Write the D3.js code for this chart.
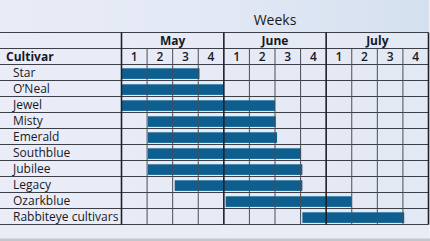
<!DOCTYPE html>
<html>
<head>
<meta charset="utf-8">
<script src="https://cdn.jsdelivr.net/npm/d3@7"></script>
<style>
  html, body { margin: 0; padding: 0; background: #e9edf6; }
  svg { display: block; }
  text { font-family: "Open Sans", "Noto Sans", sans-serif; fill: #18191e; }
</style>
</head>
<body>
<svg id="chart" width="430" height="241"></svg>
<script>
// Harvest season by cultivar, in weeks (0 = start of May week 1)
const cultivars = ["Star", "O\u2019Neal", "Jewel", "Misty", "Emerald", "Southblue",
                   "Jubilee", "Legacy", "Ozarkblue", "Rabbiteye cultivars"];
const startWeek = [0, 0, 0, 1.03, 1.03, 1.03, 1.03, 2.08, 4.07, 7.07];
const endWeek   = [3.05, 4.0, 6.0, 6.03, 6.08, 7.02, 7.07, 7.07, 9.0, 11.05];
const months = ["May", "June", "July"];
const weekLabels = ["1", "2", "3", "4"];

const W = 430, H = 241;
const svg = d3.select("#chart");

const gridLeft = 121.5, gridRight = 428.5;
const tableTop = 32.5, monthRowH = 16, weekRowH = 16;
const rowsTop = tableTop + monthRowH + weekRowH;   // 64.5
const rowH = 16;

const x = d3.scaleLinear().domain([0, 12]).range([gridLeft, gridRight]);
const y = d3.scaleBand().domain(cultivars)
  .range([rowsTop, rowsTop + rowH * cultivars.length]).padding(0);
const tableBottom = rowsTop + rowH * cultivars.length;

// background
const defs = svg.append("defs");
const bg = defs.append("linearGradient").attr("id", "bg").attr("x1", 0).attr("x2", 1).attr("y1", 0).attr("y2", 0);
bg.append("stop").attr("offset", 0).attr("stop-color", "#e9ecf7");
bg.append("stop").attr("offset", 0.55).attr("stop-color", "#e1e8f4");
bg.append("stop").attr("offset", 1).attr("stop-color", "#d4e0ef");
svg.append("rect").attr("width", W).attr("height", H).attr("fill", "url(#bg)");

const cell = defs.append("linearGradient").attr("id", "cell").attr("x1", 0).attr("x2", 1).attr("y1", 0).attr("y2", 0);
cell.append("stop").attr("offset", 0).attr("stop-color", "#eaedf8");
cell.append("stop").attr("offset", 1).attr("stop-color", "#e3e8f5");
svg.append("rect").attr("x", 0).attr("y", tableTop).attr("width", gridRight).attr("height", tableBottom - tableTop)
  .attr("fill", "url(#cell)");

// lower band and right edge strip
svg.append("rect").attr("x", 0).attr("y", tableBottom).attr("width", W).attr("height", H - tableBottom)
  .attr("fill", "#e8ecf4");
svg.append("rect").attr("x", gridRight + 0.5).attr("y", 0).attr("width", W - gridRight).attr("height", H)
  .attr("fill", "#eef1f7");
svg.append("rect").attr("x", 0).attr("y", 238.5).attr("width", W).attr("height", 3).attr("fill", "#c3c6ca");

// bars
svg.append("g").selectAll("rect").data(cultivars).join("rect")
  .attr("x", (d, i) => x(startWeek[i]))
  .attr("width", (d, i) => x(endWeek[i]) - x(startWeek[i]))
  .attr("y", d => y(d) + 3.8)
  .attr("height", 10.6)
  .attr("fill", "#0d5f8f");

// horizontal rules
const hLines = [tableTop, tableTop + monthRowH, rowsTop]
  .concat(cultivars.map(c => y(c) + rowH));
svg.append("g").selectAll("line").data(hLines).join("line")
  .attr("x1", 0).attr("x2", gridRight)
  .attr("y1", d => d).attr("y2", d => d)
  .attr("stroke", "#3c3f46").attr("stroke-width", 1.1);

// week rules (below month row)
const weekTicks = d3.range(1, 12).filter(w => w % 4 !== 0);
svg.append("g").selectAll("line").data(weekTicks).join("line")
  .attr("x1", d => x(d)).attr("x2", d => x(d))
  .attr("y1", tableTop + monthRowH).attr("y2", tableBottom)
  .attr("stroke", "#4a4d55").attr("stroke-width", 1);

// month rules
svg.append("g").selectAll("line").data([0, 4, 8, 12]).join("line")
  .attr("x1", d => x(d)).attr("x2", d => x(d))
  .attr("y1", tableTop).attr("y2", tableBottom)
  .attr("stroke", "#202228").attr("stroke-width", 1.6);

// title
svg.append("text").attr("x", x(6)).attr("y", 25).attr("text-anchor", "middle")
  .attr("font-size", 14).text("Weeks");

// month labels
svg.append("g").selectAll("text").data(months).join("text")
  .attr("x", (d, i) => x(i * 4 + 2)).attr("y", tableTop + 12.5)
  .attr("text-anchor", "middle").attr("font-size", 12).attr("font-weight", 700)
  .text(d => d);

// week numbers
svg.append("g").selectAll("text").data(d3.range(12)).join("text")
  .attr("x", d => x(d + 0.5)).attr("y", tableTop + monthRowH + 12.5)
  .attr("text-anchor", "middle").attr("font-size", 12).attr("font-weight", 600)
  .text(d => weekLabels[d % 4]);

// column header
svg.append("text").attr("x", 6).attr("y", tableTop + monthRowH + 12.5)
  .attr("font-size", 12).attr("font-weight", 700).text("Cultivar");

// cultivar names
svg.append("g").selectAll("text").data(cultivars).join("text")
  .attr("x", 13).attr("y", d => y(d) + 12.4)
  .attr("font-size", 12).text(d => d);
</script>
</body>
</html>
